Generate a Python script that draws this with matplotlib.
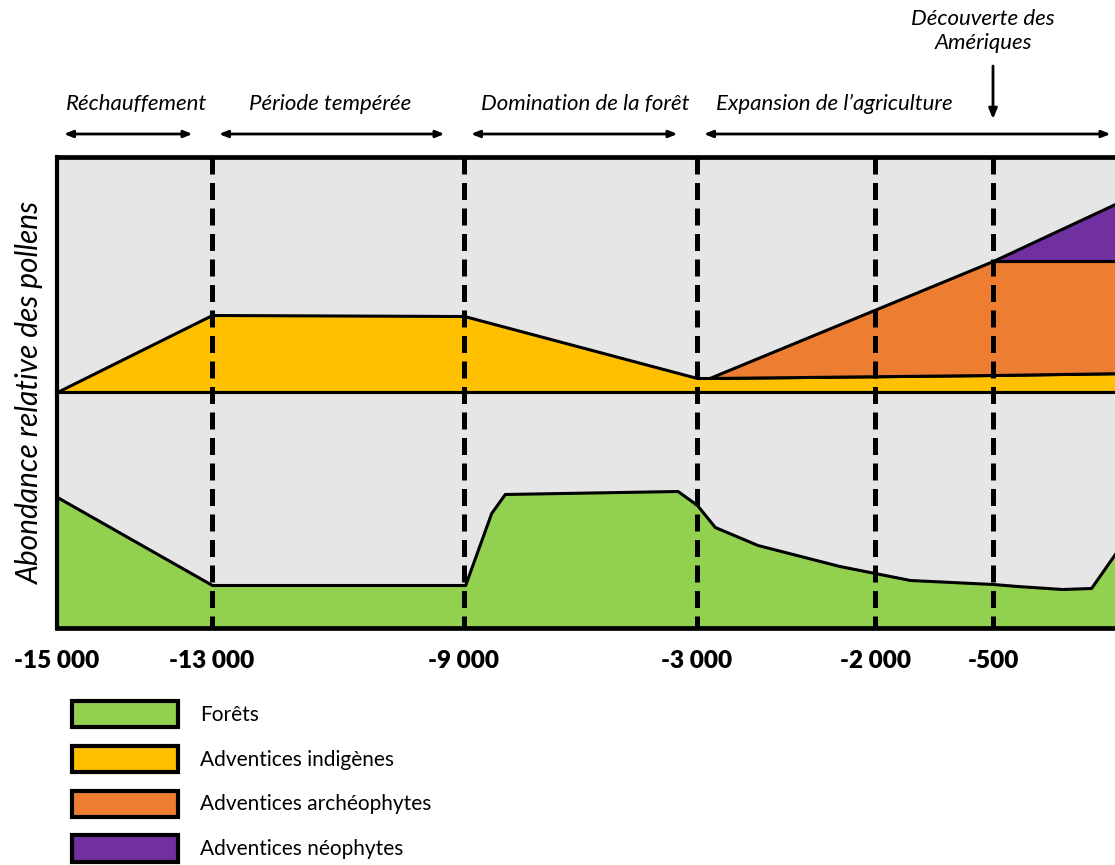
import numpy as np
import matplotlib
matplotlib.use('Agg')
import matplotlib.pyplot as plt
from matplotlib.lines import Line2D
from matplotlib.patches import Patch
from matplotlib.transforms import blended_transform_factory

plt.rcParams['font.family'] = ['Lato', 'DejaVu Sans']

# axe du temps (non linéaire) : années et position relative des ruptures
scale_years = [-15000, -13000, -9000, -3000, -2000, -500, 0]
scale_pos = [0, 155, 407, 640, 818, 936, 1073]
tick_years = [-15000, -13000, -9000, -3000, -2000, -500]
tick_labels = ['-15 000', '-13 000', '-9 000', '-3 000', '-2 000', '-500']

# forêts (partie basse)
forest_years = [-15000, -13000, -8970, -8300, -7950, -3500, -3000, -2900,
                -2660, -2200, -1555, -500, -412, -248, -142, -40, 0]
forest_vals = [131, 43, 43, 115, 134, 137, 123, 101,
               83, 62, 48, 44, 42, 39, 40, 80, 105]

# adventices (partie haute, empilées)
weed_years = [-15000, -13000, -9000, -3000, -2930, -500, 0]
indigenes = [0, 77, 76, 14, 14, 17, 19]
archeophytes = [0, 0, 0, 0, 0, 114, 112]
neophytes = [0, 0, 0, 0, 0, 0, 64]

periods = ['Réchauffement', 'Période tempérée', 'Domination de la forêt',
           'Expansion de l’agriculture']
period_bounds = [(-15000, -13000), (-13000, -9000), (-9000, -3000), (-3000, 0)]
period_text_x = [137, 330, 585, 834]

names = ['Forêts', 'Adventices indigènes', 'Adventices archéophytes', 'Adventices néophytes']
colors = ['#92d050', '#ffc000', '#ed7d31', '#7030a0']
grey = '#e6e6e6'

W, H = 1115, 865
def fx(px):
    return px / W
def fy(py):
    return 1 - py / H

def fwd(x):
    return np.interp(x, scale_years, scale_pos)
def inv(p):
    return np.interp(p, scale_pos, scale_years)

fig = plt.figure(figsize=(W / 100, H / 100), dpi=100)
x0, x1 = 57, 1130
ax_up = fig.add_axes([fx(x0), fy(392), (x1 - x0) / W, 235 / H])
ax_lo = fig.add_axes([fx(x0), fy(628), (x1 - x0) / W, 236 / H])

for ax in (ax_up, ax_lo):
    ax.set_xscale('function', functions=(fwd, inv))
    ax.set_xlim(-15000, 0)
    ax.set_facecolor(grey)
    ax.set_yticks([])
    for s in ax.spines.values():
        s.set_linewidth(3.4)
        s.set_color('black')
    ax.spines['left'].set_linewidth(3)
ax_up.set_ylim(0, 235)
ax_lo.set_ylim(0, 236)
ax_up.set_xticks([])
ax_up.spines['bottom'].set_linewidth(2.2)
ax_lo.spines['top'].set_linewidth(2.2)

# forêts
ax_lo.fill_between(forest_years, 0, forest_vals, facecolor=colors[0],
                   edgecolor='black', linewidth=2.2)

# adventices empilées
wy = np.array(weed_years)
ind = np.array(indigenes)
arc = np.array(archeophytes)
neo = np.array(neophytes)
ax_up.fill_between(wy, 0, ind, facecolor=colors[1], edgecolor='black', linewidth=2.2)
s = 4
ax_up.fill_between(wy[s:], ind[s:], ind[s:] + arc[s:], facecolor=colors[2],
                   edgecolor='black', linewidth=2.2)
s = 5
ax_up.fill_between(wy[s:], ind[s:] + arc[s:], ind[s:] + arc[s:] + neo[s:],
                   facecolor=colors[3], edgecolor='black', linewidth=2.2)

# axe des x
ax_lo.set_xticks(tick_years, tick_labels, fontsize=17.5, fontweight='heavy')
ax_lo.tick_params(axis='x', length=0, pad=16)
ax_lo.xaxis.set_minor_locator(matplotlib.ticker.NullLocator())
ax_up.xaxis.set_minor_locator(matplotlib.ticker.NullLocator())

# lignes pointillées
tr = blended_transform_factory(ax_lo.transData, fig.transFigure)
for yr in tick_years[1:]:
    fig.add_artist(Line2D([yr, yr], [fy(157), fy(628)], transform=tr,
                          color='black', linewidth=3.6, dashes=(3.4, 1.7)))

# périodes
for name, (a, b), tx in zip(periods, period_bounds, period_text_x):
    ax_up.annotate('', xy=(b, fy(134)), xytext=(a, fy(134)),
                   xycoords=('data', 'figure fraction'),
                   textcoords=('data', 'figure fraction'),
                   arrowprops=dict(arrowstyle='<|-|>,head_length=0.5,head_width=0.2',
                                   color='black', lw=2, shrinkA=5, shrinkB=14),
                   annotation_clip=False)
    fig.text(fx(tx), fy(104), name, ha='center', va='center', fontsize=16,
             style='italic')

# découverte des Amériques
fig.text(fx(983), fy(31), 'Découverte des\nAmériques', ha='center', va='center',
         fontsize=16, style='italic', linespacing=1.3)
ax_up.annotate('', xy=(-500, fy(119)), xytext=(-500, fy(66)),
               xycoords=('data', 'figure fraction'),
               textcoords=('data', 'figure fraction'),
               arrowprops=dict(arrowstyle='-|>,head_length=0.6,head_width=0.25',
                               color='black', lw=2, shrinkA=0, shrinkB=0),
               annotation_clip=False)

fig.text(fx(30), fy(392), 'Abondance relative des pollens', rotation=90,
         ha='center', va='center', fontsize=21.5, style='italic')

handles = [Patch(facecolor=c, edgecolor='black', linewidth=3) for c in colors]
fig.legend(handles, names, loc='upper left', bbox_to_anchor=(fx(72), fy(701)),
           frameon=False, fontsize=15, handlelength=5.1, handleheight=1.56,
           labelspacing=0.89, handletextpad=1.06, borderpad=0, borderaxespad=0)

fig.savefig('out.png', dpi=100)
